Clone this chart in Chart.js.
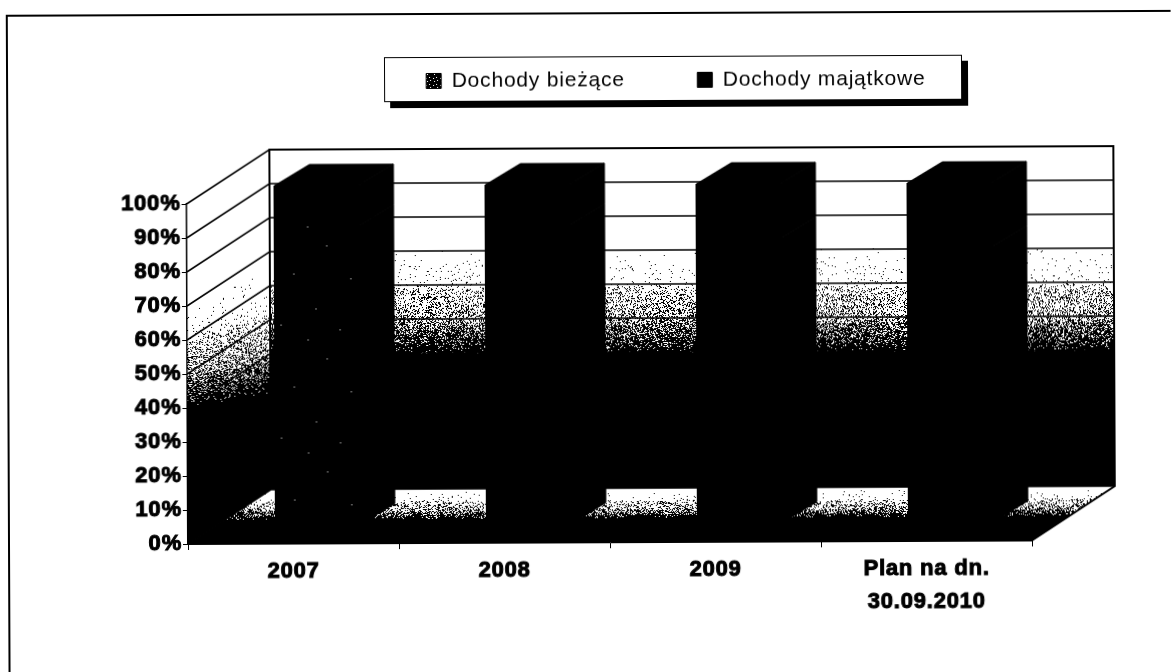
<!DOCTYPE html>
<html>
<head>
<meta charset="utf-8">
<title>Dochody</title>
<script src="https://cdn.jsdelivr.net/npm/chart.js@4/dist/chart.umd.min.js"></script>
<style>
  html, body { margin: 0; background: #fff; overflow: hidden; }
  /* the source is a slightly crooked scan */
  #chart { display: block; transform: rotate(-0.24deg); transform-origin: 188px 544px; }
</style>
</head>
<body>
<canvas id="chart" width="1173" height="672"></canvas>
<script>
const categories = ["2007", "2008", "2009", ["Plan na dn.", "30.09.2010"]];
const seriesNames = ["Dochody bieżące", "Dochody majątkowe"];
const biezace = [88, 88, 84, 81];
const majatkowe = [12, 12, 16, 19];

// 3D look of the old spreadsheet chart
const wallX = 83, wallY = -54;     // front plane -> back wall
const barX = 24.5, barY = -18;     // front plane -> front face of bars
const sideX = 35, sideY = -21;     // bar depth
const shadeStops = [[0, 0], [0.34, 0.05], [0.4, 0.22], [0.68, 0.4], [0.75, 0.6], [1, 1]];

function shade(t) {
  if (t <= 0) return 0;
  if (t >= 1) return 1;
  for (let i = 1; i < shadeStops.length; i++) {
    const [a, va] = shadeStops[i - 1], [b, vb] = shadeStops[i];
    if (t <= b) return va + (vb - va) * (t - a) / (b - a);
  }
  return 1;
}

// fixed grain, looks like the scanner dither
function grain(x, y) {
  const n = Math.sin(x * 12.9898 + y * 78.233) * 43758.5453;
  return n - Math.floor(n);
}

function polygon(ctx, pts) {
  ctx.beginPath();
  pts.forEach((p, i) => (i ? ctx.lineTo(p[0], p[1]) : ctx.moveTo(p[0], p[1])));
  ctx.closePath();
}

function stipple(ctx, pts, density) {
  const xs = pts.map((p) => p[0]), ys = pts.map((p) => p[1]);
  ctx.save();
  polygon(ctx, pts);
  ctx.clip();
  ctx.fillStyle = "#000";
  for (let y = Math.floor(Math.min(...ys)); y < Math.max(...ys); y++) {
    for (let x = Math.floor(Math.min(...xs)); x < Math.max(...xs); x++) {
      if (grain(x, y) < density(x, y)) ctx.fillRect(x, y, 1, 1);
    }
  }
  ctx.restore();
}

function speckled(size, dots) {
  const tile = document.createElement("canvas");
  tile.width = tile.height = size;
  const c = tile.getContext("2d");
  c.fillStyle = "#000";
  c.fillRect(0, 0, size, size);
  c.fillStyle = "#fff";
  dots.forEach((p) => c.fillRect(p[0], p[1], 1, 1));
  return c.createPattern(tile, "repeat");
}

const barGrain = speckled(113, [[7, 12], [31, 4], [58, 19], [90, 9], [14, 47], [44, 66], [77, 38], [101, 71], [23, 93], [66, 101]]);
const swatchGrain = speckled(7, [[1, 2], [4, 1], [2, 5], [5, 4]]);

const scene3d = {
  id: "scene3d",
  afterLayout(chart) {
    // legend sits in its own framed box above the plot
    const lg = chart.legend;
    lg.left = 316;
    lg.right = 1014;
    lg.top = -1;
  },
  beforeDraw(chart) {
    const { ctx, chartArea: a, scales: { y } } = chart;
    const L = a.left, R = a.right, T = a.top, B = a.bottom;
    const bL = L + wallX, bR = R + wallX, bT = T + wallY, bB = B + wallY;

    // scanned print has wide text
    ctx.letterSpacing = "0.8px";

    // page frame of the scan
    ctx.save();
    ctx.strokeStyle = "#000";
    ctx.lineWidth = 2;
    ctx.beginPath();
    ctx.moveTo(9, 680);
    ctx.lineTo(9, 15);
    ctx.lineTo(1190, 15);
    ctx.stroke();

    // legend box with shadow
    ctx.fillStyle = "#000";
    ctx.fillRect(392, 64, 578, 45);
    ctx.fillStyle = "#fff";
    ctx.fillRect(386, 58, 578, 45);
    ctx.lineWidth = 1;
    ctx.strokeRect(386.5, 58.5, 577, 44);

    // back wall, side wall, floor
    stipple(ctx, [[bL, bT], [bR, bT], [bR, bB], [bL, bB]], (px, py) => shade((py - 250) / 105));
    stipple(ctx, [[L, T], [bL, bT], [bL, bB], [L, B]], (px, py) => {
      const f = (px - L) / wallX;
      const from = 300 - 30 * f, to = 407 - 14 * f;
      return shade((py - from) / (to - from));
    });
    stipple(ctx, [[L, B], [R, B], [bR, bB], [bL, bB]], (px, py) => shade((py - 492) / 28));

    // grid lines run along the side wall and across the back wall
    ctx.strokeStyle = "#000";
    ctx.lineWidth = 1.5;
    y.ticks.forEach((t) => {
      const py = y.getPixelForValue(t.value);
      ctx.beginPath();
      ctx.moveTo(L, py);
      ctx.lineTo(bL, py + wallY);
      ctx.lineTo(bR, py + wallY);
      ctx.stroke();
    });
    ctx.lineWidth = 2;
    ctx.beginPath();
    ctx.moveTo(bL, bB);
    ctx.lineTo(bL, bT);
    ctx.lineTo(bR, bT);
    ctx.lineTo(bR, bB);
    ctx.lineTo(R, B);
    ctx.stroke();
    ctx.restore();
  },
  beforeDatasetsDraw(chart) {
    const { ctx } = chart;
    ctx.save();
    ctx.translate(barX, barY);
    ctx.fillStyle = "#000";
    ctx.strokeStyle = "#000";
    ctx.lineWidth = 1;
    chart.data.datasets.forEach((ds, i) => {
      chart.getDatasetMeta(i).data.forEach((bar) => {
        const p = bar.getProps(["x", "y", "base", "width"], true);
        const l = p.x - p.width / 2, r = p.x + p.width / 2;
        // right side
        polygon(ctx, [[r, p.y], [r + sideX, p.y + sideY], [r + sideX, p.base + sideY], [r, p.base]]);
        ctx.fill();
        ctx.stroke();
        // top
        if (i === chart.data.datasets.length - 1) {
          polygon(ctx, [[l, p.y], [l + sideX, p.y + sideY], [r + sideX, p.y + sideY], [r, p.y]]);
          ctx.fill();
          ctx.stroke();
        }
      });
    });
  },
  afterDatasetsDraw(chart) {
    chart.ctx.restore();
  },
};

new Chart(document.getElementById("chart"), {
  type: "bar",
  data: {
    labels: categories,
    datasets: [
      { label: seriesNames[0], data: biezace, backgroundColor: [barGrain, "#000", "#000", "#000"], borderColor: "#000", borderWidth: 1, borderSkipped: false, inflateAmount: 1 },
      { label: seriesNames[1], data: majatkowe, backgroundColor: "#000", borderColor: "#000", borderWidth: 1, borderSkipped: false, inflateAmount: 1 },
    ],
  },
  plugins: [scene3d],
  options: {
    responsive: false,
    animation: false,
    barPercentage: 0.398,
    categoryPercentage: 1,
    layout: { padding: { left: 108, right: 141, top: 203, bottom: 28 } },
    plugins: {
      tooltip: { enabled: false },
      legend: {
        position: "top",
        maxHeight: 1,
        onClick: null,
        labels: {
          color: "#000",
          boxWidth: 15,
          boxHeight: 15,
          padding: 72.5,
          font: { family: "'Liberation Sans'", size: 21 },
          generateLabels(chart) {
            return chart.data.datasets.map((ds, i) => ({
              text: ds.label,
              fillStyle: i === 0 ? swatchGrain : "#000",
              strokeStyle: "#000",
              lineWidth: 1,
              fontColor: "#000",
              datasetIndex: i,
            }));
          },
        },
      },
    },
    scales: {
      x: {
        stacked: true,
        afterFit: (s) => { s.height = 100; },
        border: { color: "#000", width: 1 },
        grid: { drawOnChartArea: false, color: "#000", tickLength: 6 },
        ticks: {
          color: "#000",
          padding: 6,
          maxRotation: 0,
          textStrokeColor: "#000",
          textStrokeWidth: 1,
          font: { family: "'Liberation Sans'", size: 22, weight: "bold", lineHeight: 1.47 },
        },
      },
      y: {
        stacked: true,
        min: 0,
        max: 100,
        afterFit: (s) => { s.width = 80; },
        border: { color: "#000", width: 1.5 },
        grid: { drawOnChartArea: false, color: "#000", tickLength: 5 },
        ticks: {
          stepSize: 10,
          color: "#000",
          padding: 1,
          textStrokeColor: "#000",
          textStrokeWidth: 1,
          callback: (v) => v + "%",
          font: { family: "'Liberation Sans'", size: 22, weight: "bold" },
        },
      },
    },
  },
});
</script>
</body>
</html>
